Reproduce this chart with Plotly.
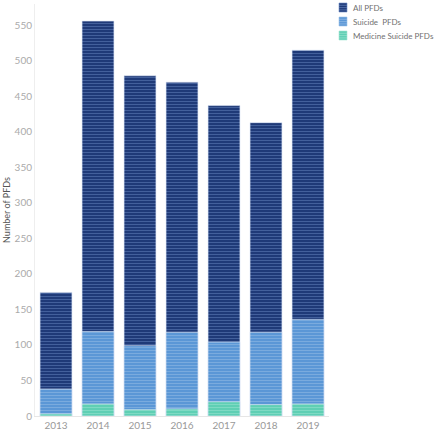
import plotly.graph_objects as go

years = ["2013", "2014", "2015", "2016", "2017", "2018", "2019"]
all_pfds = [174, 556, 479, 470, 437, 413, 515]
suicide_pfds = [38, 119, 99, 118, 104, 118, 136]
medicine_suicide_pfds = [3, 17, 9, 10, 20, 16, 17]
y_ticks = [0, 50, 100, 150, 200, 250, 300, 350, 400, 450, 500, 550]
series_names = ["All PFDs", "Suicide  PFDs", "Medicine Suicide PFDs"]

colors = [("#1f3a78", "#6f8fc8"), ("#5b97d6", "#9fc3ea"), ("#5fcfb4", "#a6e6d5")]
values = [all_pfds, suicide_pfds, medicine_suicide_pfds]

W, H = 440, 430
L, R, T, B = 35, 111, 4, 14
PW, PH = W - L - R, H - T - B

def px_x(p):
    return (p - L) / PW

def px_y(p):
    return 1 - (p - T) / PH

fig = go.Figure()
for name, vals, (bg, fg) in zip(series_names, values, colors):
    fig.add_trace(go.Bar(
        x=years, y=vals, name=name, showlegend=False,
        marker=dict(color=bg, line=dict(color="rgba(220,230,245,0.8)", width=0.8),
                    pattern=dict(shape="-", fgcolor=fg, bgcolor=bg, size=3, solidity=0.3)),
        width=0.76,
    ))

# manual legend
shapes = []
annotations = []
for i, (name, (bg, fg)) in enumerate(zip(series_names, colors)):
    top = 3 + 14 * i
    shapes.append(dict(type="rect", xref="paper", yref="paper",
                       x0=px_x(339), x1=px_x(347), y0=px_y(top + 9), y1=px_y(top),
                       fillcolor=bg, line=dict(color=fg, width=0.6)))
    for k in range(1, 4):
        yy = top + k * 2.3
        shapes.append(dict(type="line", xref="paper", yref="paper",
                           x0=px_x(339), x1=px_x(347), y0=px_y(yy), y1=px_y(yy),
                           line=dict(color=fg, width=0.6)))
    annotations.append(dict(text=name, xref="paper", yref="paper",
                            x=px_x(351), y=px_y(top + 4.5), xanchor="left", yanchor="middle",
                            showarrow=False, font=dict(size=8, color="#707070")))

fig.update_layout(
    width=W, height=H,
    barmode="overlay",
    plot_bgcolor="white", paper_bgcolor="white",
    margin=dict(l=L, r=R, t=T, b=B),
    font=dict(family="Lato, sans-serif", size=10, color="#999999"),
    showlegend=False,
    shapes=shapes,
    annotations=annotations,
)
fig.update_xaxes(showgrid=False, showline=True, linecolor="#e6e6e6", linewidth=1,
                 ticks="", tickfont=dict(size=10, color="#999999"), automargin=False)
fig.update_yaxes(range=[0, 580], tickvals=y_ticks, showgrid=False, zeroline=False,
                 showline=True, linecolor="#eeeeee", linewidth=1, automargin=False,
                 tickfont=dict(size=10, color="#aaaaaa"),
                 title=dict(text="Number of PFDs", font=dict(size=9, color="#555555"), standoff=2))

fig.write_html("out.html", config={"displayModeBar": False},
               post_script="document.body.style.margin='0';")
